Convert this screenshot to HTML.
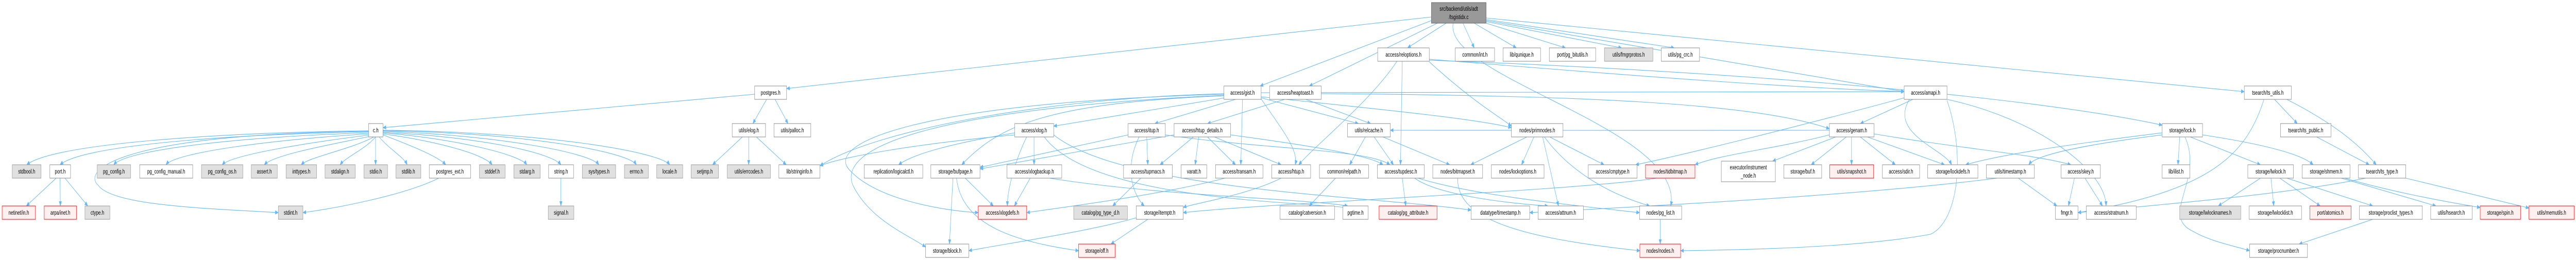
<!DOCTYPE html>
<html><head><meta charset="utf-8"><style>
html,body{margin:0;padding:0;background:#fff;width:100%;height:100%;overflow:hidden;}
svg{display:block;width:100vw;height:100vh;}
.n{fill:#fff;stroke:#888;stroke-width:1}
.g{fill:#e0e0e0;stroke:#999;stroke-width:1}
.r{fill:#fff0f0;stroke:#f00;stroke-width:1}
.k{fill:#999;stroke:#666;stroke-width:1}
text{font-family:"Liberation Sans",sans-serif;font-size:12px;fill:#000;text-anchor:middle}
.e path{fill:none;stroke:#63b8ff;stroke-width:1.1;marker-end:url(#a)}
</style></head><body>
<svg viewBox="0 0 7339 505" preserveAspectRatio="none" xmlns="http://www.w3.org/2000/svg">
<defs><marker id="a" markerWidth="10" markerHeight="8" refX="9" refY="4" orient="auto" markerUnits="userSpaceOnUse"><path d="M0,0 L10,4 L0,8z" fill="#63b8ff"/></marker></defs>
<g class="e">
<path d="M4078,33 L2241,172"/>
<path d="M4078,40 L3590,167"/>
<path d="M4095,45 L3730,167"/>
<path d="M4234,40 L5425,178"/>
<path d="M4234,35 L6394,178"/>
<path d="M4120,45 L4010,93"/>
<path d="M4168,45 L4200,93"/>
<path d="M4200,45 L4320,93"/>
<path d="M4234,45 L4460,93"/>
<path d="M4234,42 L4620,93"/>
<path d="M4234,38 L4770,93"/>
<path d="M4140,45 C4110,150 4800,250 4760,400"/>
<path d="M2150,183 L1091,248"/>
<path d="M2184,193 L2145,240"/>
<path d="M2208,193 L2245,240"/>
<path d="M1050,254 C600,258 150,280 76,320"/>
<path d="M1050,256 C600,262 230,285 171,320"/>
<path d="M1050,258 C700,265 360,290 324,320"/>
<path d="M1050,260 C800,270 500,295 473,320"/>
<path d="M1055,262 C900,275 660,300 633,320"/>
<path d="M1060,264 C950,280 780,300 753,320"/>
<path d="M1065,266 C1000,290 880,305 858,320"/>
<path d="M1070,266 C1040,290 985,305 969,320"/>
<path d="M1070,266 L1070,320"/>
<path d="M1080,266 C1110,290 1150,305 1160,320"/>
<path d="M1091,262 C1180,285 1250,305 1270,320"/>
<path d="M1091,260 C1250,275 1380,300 1402,320"/>
<path d="M1091,258 C1300,270 1480,300 1501,320"/>
<path d="M1091,257 C1350,265 1570,295 1598,320"/>
<path d="M1091,255 C1400,262 1680,295 1706,320"/>
<path d="M1091,254 C1500,258 1790,295 1813,320"/>
<path d="M1091,253 C1550,256 1880,295 1908,320"/>
<path d="M1050,255 C350,260 230,330 280,360 C320,400 600,405 793,413"/>
<path d="M160,346 L75,400"/>
<path d="M171,346 L172,400"/>
<path d="M185,346 L250,400"/>
<path d="M1250,346 C1150,380 950,405 863,413"/>
<path d="M1598,346 L1598,400"/>
<path d="M2115,266 L2030,320"/>
<path d="M2133,266 L2133,320"/>
<path d="M2155,266 L2240,320"/>
<path d="M3490,190 L3002,245"/>
<path d="M3520,193 L3290,240"/>
<path d="M3487,186 C3000,200 2850,240 2740,320"/>
<path d="M3540,193 L3535,320"/>
<path d="M3593,190 L3870,240"/>
<path d="M3487,182 C3000,190 2500,250 2336,322"/>
<path d="M3487,183 C2600,200 2350,280 2420,330 C2500,390 2700,410 2787,413"/>
<path d="M3487,185 C2700,210 2380,280 2430,360 C2480,430 2600,460 2637,480"/>
<path d="M3593,192 C3650,250 3700,290 3690,320"/>
<path d="M3593,188 C3900,210 4200,230 4306,248"/>
<path d="M3593,180 C4500,175 5000,178 5425,178"/>
<path d="M3660,193 L3440,240"/>
<path d="M3720,193 L3905,240"/>
<path d="M3764,182 C4500,185 5000,200 5212,250"/>
<path d="M2891,258 C2700,280 2600,300 2560,320"/>
<path d="M2891,262 C2600,280 2400,305 2336,322"/>
<path d="M2925,266 C2900,300 2870,360 2870,400"/>
<path d="M2946,266 L2946,320"/>
<path d="M2975,266 C3100,380 3600,390 3840,403"/>
<path d="M3002,262 C3200,370 3900,380 4191,408"/>
<path d="M2750,346 L2830,400"/>
<path d="M2715,346 L2705,474"/>
<path d="M2725,346 C2740,440 2900,470 3073,487"/>
<path d="M2935,346 L2890,400"/>
<path d="M2990,346 C3300,380 3700,385 3840,400"/>
<path d="M3267,266 L3270,320"/>
<path d="M3245,266 C3200,330 3230,380 3260,400"/>
<path d="M3214,262 L2792,325"/>
<path d="M3320,262 C3600,290 3900,290 3960,320"/>
<path d="M3400,266 L3305,320"/>
<path d="M3415,266 L3405,320"/>
<path d="M3440,266 L3520,320"/>
<path d="M3460,266 L3650,320"/>
<path d="M3345,262 L2792,328"/>
<path d="M3506,262 C3700,280 3900,300 3940,320"/>
<path d="M3250,346 L3170,400"/>
<path d="M3490,346 C3300,380 3000,405 2925,413"/>
<path d="M3650,346 C3550,380 3400,395 3371,403"/>
<path d="M3237,423 C3100,450 2850,475 2760,487"/>
<path d="M3270,426 L3165,474"/>
<path d="M3890,266 L3845,320"/>
<path d="M3915,266 L3970,320"/>
<path d="M3940,266 L4130,320"/>
<path d="M3805,346 L3730,400"/>
<path d="M3995,346 L4005,400"/>
<path d="M4030,346 C4100,380 4300,395 4410,400"/>
<path d="M4040,346 C4200,380 4500,400 4671,413"/>
<path d="M4153,346 C4150,420 4300,460 4672,487"/>
<path d="M4350,266 L4190,320"/>
<path d="M4370,266 L4335,320"/>
<path d="M4415,266 L4570,320"/>
<path d="M4395,266 L4440,400"/>
<path d="M4400,266 C4480,340 4600,380 4700,400"/>
<path d="M4730,426 L4730,474"/>
<path d="M3995,119 L3990,320"/>
<path d="M3980,119 C3900,200 3750,280 3700,320"/>
<path d="M4072,115 C4700,150 5100,170 5425,178"/>
<path d="M4072,117 C5000,140 5800,190 6160,243"/>
<path d="M4072,120 C4200,200 4280,230 4306,245"/>
<path d="M5450,193 L5300,240"/>
<path d="M5547,193 C5800,230 6000,330 6000,400"/>
<path d="M5440,193 C5380,260 5540,290 5560,320"/>
<path d="M5425,190 C5100,250 4800,300 4660,320"/>
<path d="M5547,195 C5600,300 5580,430 5500,455 C5300,480 5000,485 4788,487"/>
<path d="M5275,266 L5275,320"/>
<path d="M5300,266 L5400,320"/>
<path d="M5320,266 L5540,320"/>
<path d="M5339,260 C5600,290 5800,300 5900,320"/>
<path d="M5260,266 L5160,320"/>
<path d="M5230,266 L5050,313"/>
<path d="M5212,262 C5050,290 4900,300 4829,320"/>
<path d="M5212,253 C4800,255 4200,250 3961,253"/>
<path d="M6160,258 C5900,280 5700,300 5600,320"/>
<path d="M6160,262 C5950,280 5800,300 5780,320"/>
<path d="M6210,266 L6205,320"/>
<path d="M6240,266 L6440,320"/>
<path d="M6275,262 C6450,280 6560,300 6590,320"/>
<path d="M6225,266 C6280,350 6150,420 6250,450 C6300,470 6380,480 6409,487"/>
<path d="M6440,346 L6320,400"/>
<path d="M6470,346 L6478,400"/>
<path d="M6495,346 L6610,400"/>
<path d="M6515,346 L6760,400"/>
<path d="M6760,426 L6550,474"/>
<path d="M6670,346 L6940,400"/>
<path d="M6680,346 C6800,370 6950,390 7066,403"/>
<path d="M6480,193 L6545,240"/>
<path d="M6515,193 C6650,240 6720,280 6770,320"/>
<path d="M6450,193 C6400,300 6300,370 5920,413"/>
<path d="M6600,266 L6750,320"/>
<path d="M6854,346 L7205,404"/>
<path d="M6740,346 C6500,380 6100,400 5920,413"/>
<path d="M5910,346 L5893,400"/>
<path d="M5940,346 L5990,400"/>
<path d="M5750,346 L5860,400"/>
<path d="M5690,346 C5300,380 4700,400 4358,413"/>
<path d="M4720,346 C4500,370 3600,395 3371,413"/>
</g>
<g>
<rect class="k" x="4078" y="5" width="156" height="40"/><text x="4156" y="21">src/backend/utils/adt</text><text x="4156" y="37">/tsgistidx.c</text>
<rect class="n" x="3925" y="93" width="147" height="26"/><text x="3998.5" y="110">access/reloptions.h</text>
<rect class="n" x="4146" y="93" width="112" height="26"/><text x="4202" y="110">common/int.h</text>
<rect class="n" x="4282" y="93" width="107" height="26"/><text x="4335.5" y="110">lib/qunique.h</text>
<rect class="n" x="4414" y="93" width="132" height="26"/><text x="4480" y="110">port/pg_bitutils.h</text>
<rect class="g" x="4571" y="93" width="138" height="26"/><text x="4640" y="110">utils/fmgrprotos.h</text>
<rect class="n" x="4733" y="93" width="109" height="26"/><text x="4787.5" y="110">utils/pg_crc.h</text>
<rect class="n" x="2150" y="167" width="91" height="26"/><text x="2195.5" y="184">postgres.h</text>
<rect class="n" x="3487" y="167" width="106" height="26"/><text x="3540" y="184">access/gist.h</text>
<rect class="n" x="3617" y="167" width="147" height="26"/><text x="3690.5" y="184">access/heaptoast.h</text>
<rect class="n" x="5425" y="167" width="122" height="26"/><text x="5486" y="184">access/amapi.h</text>
<rect class="n" x="6394" y="167" width="134" height="26"/><text x="6461" y="184">tsearch/ts_utils.h</text>
<rect class="n" x="1050" y="240" width="41" height="26"/><text x="1070.5" y="257">c.h</text>
<rect class="n" x="2086" y="240" width="95" height="26"/><text x="2133.5" y="257">utils/elog.h</text>
<rect class="n" x="2205" y="240" width="105" height="26"/><text x="2257.5" y="257">utils/palloc.h</text>
<rect class="n" x="2891" y="240" width="111" height="26"/><text x="2946.5" y="257">access/xlog.h</text>
<rect class="n" x="3214" y="240" width="106" height="26"/><text x="3267" y="257">access/itup.h</text>
<rect class="n" x="3345" y="240" width="161" height="26"/><text x="3425.5" y="257">access/htup_details.h</text>
<rect class="n" x="3839" y="240" width="122" height="26"/><text x="3900" y="257">utils/relcache.h</text>
<rect class="n" x="4306" y="240" width="147" height="26"/><text x="4379.5" y="257">nodes/primnodes.h</text>
<rect class="n" x="5212" y="240" width="127" height="26"/><text x="5275.5" y="257">access/genam.h</text>
<rect class="n" x="6160" y="240" width="115" height="26"/><text x="6217.5" y="257">storage/lock.h</text>
<rect class="n" x="6497" y="240" width="144" height="26"/><text x="6569" y="257">tsearch/ts_public.h</text>
<rect class="g" x="35" y="320" width="82" height="26"/><text x="76" y="337">stdbool.h</text>
<rect class="n" x="142" y="320" width="59" height="26"/><text x="171.5" y="337">port.h</text>
<rect class="g" x="277" y="320" width="95" height="26"/><text x="324.5" y="337">pg_config.h</text>
<rect class="n" x="398" y="320" width="151" height="26"/><text x="473.5" y="337">pg_config_manual.h</text>
<rect class="g" x="574" y="320" width="118" height="26"/><text x="633" y="337">pg_config_os.h</text>
<rect class="g" x="716" y="320" width="74" height="26"/><text x="753" y="337">assert.h</text>
<rect class="g" x="815" y="320" width="87" height="26"/><text x="858.5" y="337">inttypes.h</text>
<rect class="g" x="926" y="320" width="86" height="26"/><text x="969" y="337">stdalign.h</text>
<rect class="g" x="1037" y="320" width="67" height="26"/><text x="1070.5" y="337">stdio.h</text>
<rect class="g" x="1128" y="320" width="71" height="26"/><text x="1163.5" y="337">stdlib.h</text>
<rect class="n" x="1223" y="320" width="118" height="26"/><text x="1282" y="337">postgres_ext.h</text>
<rect class="g" x="1366" y="320" width="73" height="26"/><text x="1402.5" y="337">stddef.h</text>
<rect class="g" x="1464" y="320" width="75" height="26"/><text x="1501.5" y="337">stdarg.h</text>
<rect class="n" x="1563" y="320" width="71" height="26"/><text x="1598.5" y="337">string.h</text>
<rect class="g" x="1659" y="320" width="95" height="26"/><text x="1706.5" y="337">sys/types.h</text>
<rect class="g" x="1779" y="320" width="68" height="26"/><text x="1813" y="337">errno.h</text>
<rect class="g" x="1871" y="320" width="74" height="26"/><text x="1908" y="337">locale.h</text>
<rect class="g" x="1969" y="320" width="78" height="26"/><text x="2008" y="337">setjmp.h</text>
<rect class="g" x="2072" y="320" width="123" height="26"/><text x="2133.5" y="337">utils/errcodes.h</text>
<rect class="n" x="2219" y="320" width="117" height="26"/><text x="2277.5" y="337">lib/stringinfo.h</text>
<rect class="n" x="2462" y="320" width="167" height="26"/><text x="2545.5" y="337">replication/logicalctl.h</text>
<rect class="n" x="2652" y="320" width="140" height="26"/><text x="2722" y="337">storage/bufpage.h</text>
<rect class="n" x="2869" y="320" width="156" height="26"/><text x="2947" y="337">access/xlogbackup.h</text>
<rect class="n" x="3201" y="320" width="139" height="26"/><text x="3270.5" y="337">access/tupmacs.h</text>
<rect class="n" x="3365" y="320" width="73" height="26"/><text x="3401.5" y="337">varatt.h</text>
<rect class="n" x="3463" y="320" width="135" height="26"/><text x="3530.5" y="337">access/transam.h</text>
<rect class="n" x="3623" y="320" width="111" height="26"/><text x="3678.5" y="337">access/htup.h</text>
<rect class="n" x="3759" y="320" width="140" height="26"/><text x="3829" y="337">common/relpath.h</text>
<rect class="n" x="3924" y="320" width="134" height="26"/><text x="3991" y="337">access/tupdesc.h</text>
<rect class="n" x="4082" y="320" width="142" height="26"/><text x="4153" y="337">nodes/bitmapset.h</text>
<rect class="n" x="4249" y="320" width="150" height="26"/><text x="4324" y="337">nodes/lockoptions.h</text>
<rect class="n" x="4525" y="320" width="139" height="26"/><text x="4594.5" y="337">access/cmptype.h</text>
<rect class="r" x="4688" y="320" width="141" height="26"/><text x="4758.5" y="337">nodes/tidbitmap.h</text>
<rect class="n" x="4904" y="313" width="154" height="40"/><text x="4981" y="329">executor/instrument</text><text x="4981" y="345">_node.h</text>
<rect class="n" x="5082" y="320" width="108" height="26"/><text x="5136" y="337">storage/buf.h</text>
<rect class="r" x="5213" y="320" width="125" height="26"/><text x="5275.5" y="337">utils/snapshot.h</text>
<rect class="n" x="5363" y="320" width="106" height="26"/><text x="5416" y="337">access/sdir.h</text>
<rect class="n" x="5492" y="320" width="143" height="26"/><text x="5563.5" y="337">storage/lockdefs.h</text>
<rect class="n" x="5659" y="320" width="137" height="26"/><text x="5727.5" y="337">utils/timestamp.h</text>
<rect class="n" x="5872" y="320" width="112" height="26"/><text x="5928" y="337">access/skey.h</text>
<rect class="n" x="6160" y="320" width="79" height="26"/><text x="6199.5" y="337">lib/ilist.h</text>
<rect class="n" x="6404" y="320" width="130" height="26"/><text x="6469" y="337">storage/lwlock.h</text>
<rect class="n" x="6559" y="320" width="136" height="26"/><text x="6627" y="337">storage/shmem.h</text>
<rect class="n" x="6719" y="320" width="135" height="26"/><text x="6786.5" y="337">tsearch/ts_type.h</text>
<rect class="r" x="6" y="400" width="95" height="26"/><text x="53.5" y="417">netinet/in.h</text>
<rect class="r" x="126" y="400" width="92" height="26"/><text x="172" y="417">arpa/inet.h</text>
<rect class="g" x="242" y="400" width="71" height="26"/><text x="277.5" y="417">ctype.h</text>
<rect class="g" x="793" y="400" width="70" height="26"/><text x="828" y="417">stdint.h</text>
<rect class="g" x="1562" y="400" width="73" height="26"/><text x="1598.5" y="417">signal.h</text>
<rect class="r" x="2787" y="400" width="138" height="26"/><text x="2856" y="417">access/xlogdefs.h</text>
<rect class="g" x="3059" y="400" width="153" height="26"/><text x="3135.5" y="417">catalog/pg_type_d.h</text>
<rect class="n" x="3237" y="400" width="134" height="26"/><text x="3304" y="417">storage/itemptr.h</text>
<rect class="n" x="3647" y="400" width="155" height="26"/><text x="3724.5" y="417">catalog/catversion.h</text>
<rect class="n" x="3826" y="400" width="72" height="26"/><text x="3862" y="417">pgtime.h</text>
<rect class="r" x="3929" y="400" width="165" height="26"/><text x="4011.5" y="417">catalog/pg_attribute.h</text>
<rect class="n" x="4191" y="400" width="167" height="26"/><text x="4274.5" y="417">datatype/timestamp.h</text>
<rect class="n" x="4382" y="400" width="129" height="26"/><text x="4446.5" y="417">access/attnum.h</text>
<rect class="n" x="4671" y="400" width="120" height="26"/><text x="4731" y="417">nodes/pg_list.h</text>
<rect class="n" x="5856" y="400" width="64" height="26"/><text x="5888" y="417">fmgr.h</text>
<rect class="n" x="5944" y="400" width="142" height="26"/><text x="6015" y="417">access/stratnum.h</text>
<rect class="g" x="6210" y="400" width="174" height="26"/><text x="6297" y="417">storage/lwlocknames.h</text>
<rect class="n" x="6408" y="400" width="149" height="26"/><text x="6482.5" y="417">storage/lwlocklist.h</text>
<rect class="r" x="6581" y="400" width="117" height="26"/><text x="6639.5" y="417">port/atomics.h</text>
<rect class="n" x="6722" y="400" width="179" height="26"/><text x="6811.5" y="417">storage/proclist_types.h</text>
<rect class="n" x="6925" y="400" width="118" height="26"/><text x="6984" y="417">utils/hsearch.h</text>
<rect class="r" x="7066" y="400" width="115" height="26"/><text x="7123.5" y="417">storage/spin.h</text>
<rect class="r" x="7205" y="400" width="129" height="26"/><text x="7269.5" y="417">utils/memutils.h</text>
<rect class="n" x="2637" y="474" width="123" height="26"/><text x="2698.5" y="491">storage/block.h</text>
<rect class="r" x="3073" y="474" width="104" height="26"/><text x="3125" y="491">storage/off.h</text>
<rect class="r" x="4672" y="474" width="116" height="26"/><text x="4730" y="491">nodes/nodes.h</text>
<rect class="n" x="6409" y="474" width="165" height="26"/><text x="6491.5" y="491">storage/procnumber.h</text>
</g>
</svg>
</body></html>
